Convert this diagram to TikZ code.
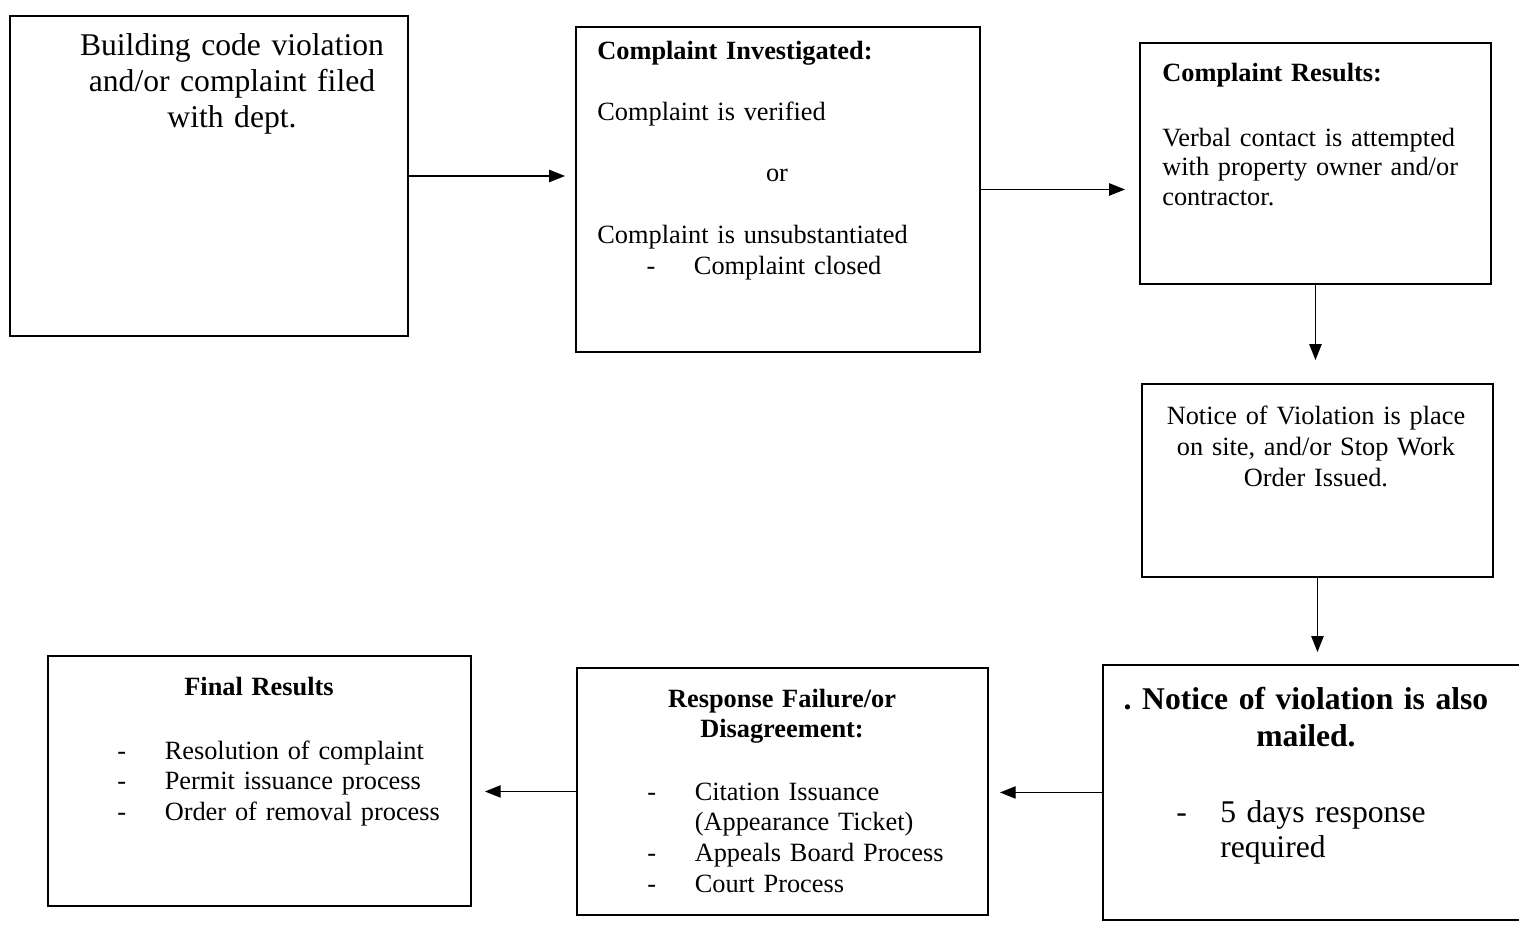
\documentclass[tikz,border=0pt]{standalone}
\usepackage{fontspec}
\setmainfont{Liberation Serif}
\usetikzlibrary{arrows.meta}
\newcommand{\dashitem}[1][27pt]{\makebox[#1][l]{-}}

\begin{document}
\begin{tikzpicture}[x=0.02cm, y=-0.02cm,
    box/.style={draw, line width=0.9pt, inner sep=0pt, outer sep=0pt, anchor=north west},
    txt/.style={inner sep=0pt, font=\fontsize{15}{17.4}\selectfont},
    arr/.style={-{Triangle[length=9pt,width=7pt]}, line width=0.8pt}]
    \useasboundingbox (0,0) rectangle (1519,927);

    % boxes
    \node[box, minimum width=7.96cm, minimum height=6.4cm] (viol) at (10,16) {};
    \node[box, minimum width=8.08cm, minimum height=6.5cm] (invest) at (576,27) {};
    \node[box, minimum width=7.02cm, minimum height=4.82cm] (results) at (1140,43) {};
    \node[box, minimum width=7.02cm, minimum height=3.86cm] (notice) at (1142,384) {};
    \node[box, minimum width=8.4cm, minimum height=5.1cm] (mailed) at (1103,665) {};
    \node[box, minimum width=8.22cm, minimum height=4.94cm] (failure) at (577,668) {};
    \node[box, minimum width=8.46cm, minimum height=5.0cm] (final) at (48,656) {};

    % texts
    \node[txt, font=\fontsize{18}{20.7}\selectfont, text width=7.5cm, align=center, anchor=base]
        (violtxt) at (232,55) {Building code violation\\ and/or complaint filed\\ with dept.};
    \node[txt, text width=7.6cm, align=left, anchor=base west] (investtxt) at (597,59)
        {\textbf{Complaint Investigated:}\\[17.4pt]
         Complaint is verified\\[17.4pt]
         \hspace*{96pt}or\\[18pt]
         Complaint is unsubstantiated\\
         \hspace*{28pt}\dashitem Complaint closed};
    \node[txt, font=\fontsize{15}{17}\selectfont, text width=6.6cm, align=left, anchor=base west]
        (resultstxt) at (1162,81)
        {\textbf{Complaint Results:}\\[20pt]
         Verbal contact is attempted\\ with property owner and/or\\ contractor.};
    \node[txt, font=\fontsize{15}{17.9}\selectfont, text width=6.8cm, align=center, anchor=base]
        (noticetxt) at (1316,424) {Notice of Violation is place\\ on site, and/or Stop Work\\ Order Issued.};
    \node[txt, font=\fontsize{18}{21.5}\selectfont\bfseries, text width=7.6cm, align=center, anchor=base]
        (mailedhead) at (1306,709) {.\ Notice of violation is also\\ mailed.};
    \node[txt, font=\fontsize{18}{20.4}\selectfont, text width=6cm, align=left, anchor=base west]
        (mailedtxt) at (1176,822) {\dashitem[25pt]5 days response\\ \hspace*{25pt}required};
    \node[txt, font=\fontsize{15}{17.6}\selectfont\bfseries, text width=7.6cm, align=center, anchor=base]
        (failurehead) at (782,707) {Response Failure/or\\ Disagreement:};
    \node[txt, font=\fontsize{15}{17.6}\selectfont, text width=6.8cm, align=left, anchor=base west]
        (failuretxt) at (647,800)
        {\dashitem Citation Issuance\\
         \hspace*{27pt}(Appearance Ticket)\\
         \dashitem Appeals Board Process\\
         \dashitem Court Process};
    \node[txt, font=\fontsize{15}{17.6}\selectfont\bfseries, text width=7.6cm, align=center, anchor=base]
        (finalhead) at (259,695) {Final Results};
    \node[txt, font=\fontsize{15}{17.6}\selectfont, text width=6.8cm, align=left, anchor=base west]
        (finaltxt) at (117,759)
        {\dashitem Resolution of complaint\\
         \dashitem Permit issuance process\\
         \dashitem Order of removal process};

    % arrows
    \draw[arr, shorten >=0.22cm] (viol.east) -- (viol.east -| invest.west);
    \draw[arr, shorten >=0.3cm] (invest.east) -- (invest.east -| results.west);
    \draw[arr, shorten >=0.48cm] (results.south) -- (results.south |- notice.north);
    \draw[arr, shorten >=0.26cm] (notice.south) -- (notice.south |- mailed.north);
    \draw[arr, shorten >=0.24cm] (mailed.west) -- (mailed.west -| failure.east);
    \draw[arr, shorten >=0.28cm] (failure.west) -- (failure.west -| final.east);
\end{tikzpicture}
\end{document}
